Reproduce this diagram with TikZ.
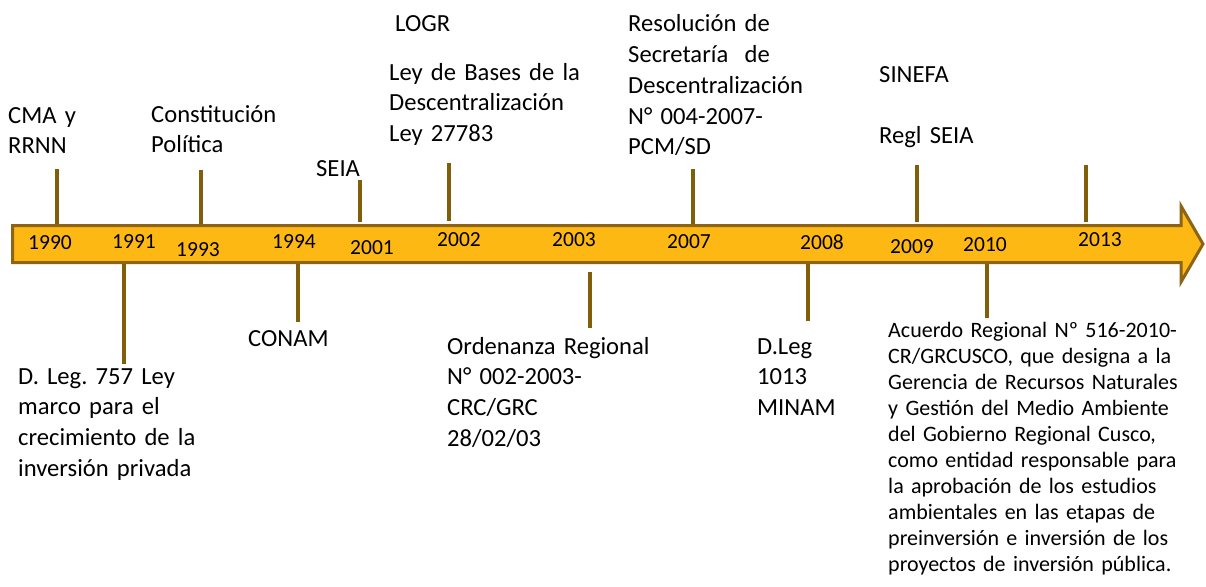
\documentclass[tikz,border=0pt]{standalone}
\usepackage{fontspec}
\setmainfont{Carlito}
\frenchspacing
\definecolor{barfill}{RGB}{253,184,19}
\definecolor{barline}{RGB}{140,100,20}
\definecolor{tickc}{RGB}{128,94,10}
\tikzset{
  lbl/.style={anchor=base west, inner sep=0pt, align=left, text width=320pt,
              font=\fontsize{24.6}{30.7}\selectfont\frenchspacing},
  smalllbl/.style={anchor=base west, inner sep=0pt, align=left, text width=320pt,
              font=\fontsize{22}{26}\selectfont\frenchspacing},
  yr/.style={anchor=base west, inner sep=0pt, font=\fontsize{21.5}{24}\selectfont},
  tickline/.style={draw=tickc, line width=4pt},
  barstyle/.style={draw=barline, fill=barfill, line width=3pt, line join=miter},
}
\begin{document}
\begin{tikzpicture}[x=1pt,y=-1pt]
\useasboundingbox (0,0) rectangle (1206,586);

% tick end points
\coordinate (a1990) at (57,169);  \coordinate (b1990) at (57,226);
\coordinate (a1993) at (201,170); \coordinate (b1993) at (201,226);
\coordinate (a2001) at (360,180); \coordinate (b2001) at (360,222);
\coordinate (a2002) at (449,163); \coordinate (b2002) at (449,221);
\coordinate (a2007) at (693,169); \coordinate (b2007) at (693,226);
\coordinate (a2009) at (917,165); \coordinate (b2009) at (917,222);
\coordinate (a2013) at (1086,165); \coordinate (b2013) at (1086,222);
\coordinate (a1991) at (124,262); \coordinate (b1991) at (124,364);
\coordinate (a1994) at (298,262); \coordinate (b1994) at (298,322);
\coordinate (a2003) at (590,272); \coordinate (b2003) at (590,328);
\coordinate (a2008) at (808,262); \coordinate (b2008) at (808,321);
\coordinate (a2010) at (987,262); \coordinate (b2010) at (987,318);

\foreach \t in {1990,1993,2001,2002,2007,2009,2013,1991,1994,2003,2008,2010}
  \draw[tickline] (a\t) -- (b\t);

% timeline arrow
\draw[barstyle] (12.5,225.5) -- (1181,225.5) -- (1181,206) -- (1203,244)
  -- (1181,282) -- (1181,262.5) -- (12.5,262.5) -- cycle;

% years
\node[yr] (y1990) at (28,249) {1990};
\node[yr] (y1991) at (112,248) {1991};
\node[yr] (y1993) at (176,256) {1993};
\node[yr] (y1994) at (272,248) {1994};
\node[yr] (y2001) at (350,254) {2001};
\node[yr] (y2002) at (437,246) {2002};
\node[yr] (y2003) at (552,246) {2003};
\node[yr] (y2007) at (667,248) {2007};
\node[yr] (y2008) at (800,249) {2008};
\node[yr] (y2009) at (890,253) {2009};
\node[yr] (y2010) at (963,251) {2010};
\node[yr] (y2013) at (1078,246) {2013};

% labels above
\node[lbl] (cma) at (8,123) {CMA y\\RRNN};
\node[lbl] (const) at (151,122) {Constitución\\Política};
\node[lbl] (seia) at (316,176) {SEIA};
\node[lbl] (logr) at (395,32) {LOGR};
\node[lbl] (bases) at (389,80) {Ley de Bases de la\\Descentralización\\Ley 27783};
\node[lbl] (resol) at (628,32) {Resolución de\\Secretaría\ \ de\\Descentralización\\N° 004-2007-\\PCM/SD};
\node[lbl] (sinefa) at (879,82) {SINEFA};
\node[lbl] (regl) at (879,143) {Regl SEIA};

% labels below
\node[lbl] (dleg757) at (18,384) {D. Leg. 757 Ley\\marco para el\\crecimiento de la\\inversión privada};
\node[lbl] (conam) at (248,346) {CONAM};
\node[lbl] (orden) at (447,354) {Ordenanza Regional\\N° 002-2003-\\CRC/GRC\\28/02/03};
\node[lbl] (dleg1013) at (757,354) {D.Leg\\1013\\MINAM};
\node[smalllbl] (acuerdo) at (888,337) {Acuerdo Regional Nº 516-2010-\\CR/GRCUSCO, que designa a la\\Gerencia de Recursos Naturales\\y Gestión del Medio Ambiente\\del Gobierno Regional Cusco,\\como entidad responsable para\\la aprobación de los estudios\\ambientales en las etapas de\\preinversión e inversión de los\\proyectos de inversión pública.};
\end{tikzpicture}
\end{document}
